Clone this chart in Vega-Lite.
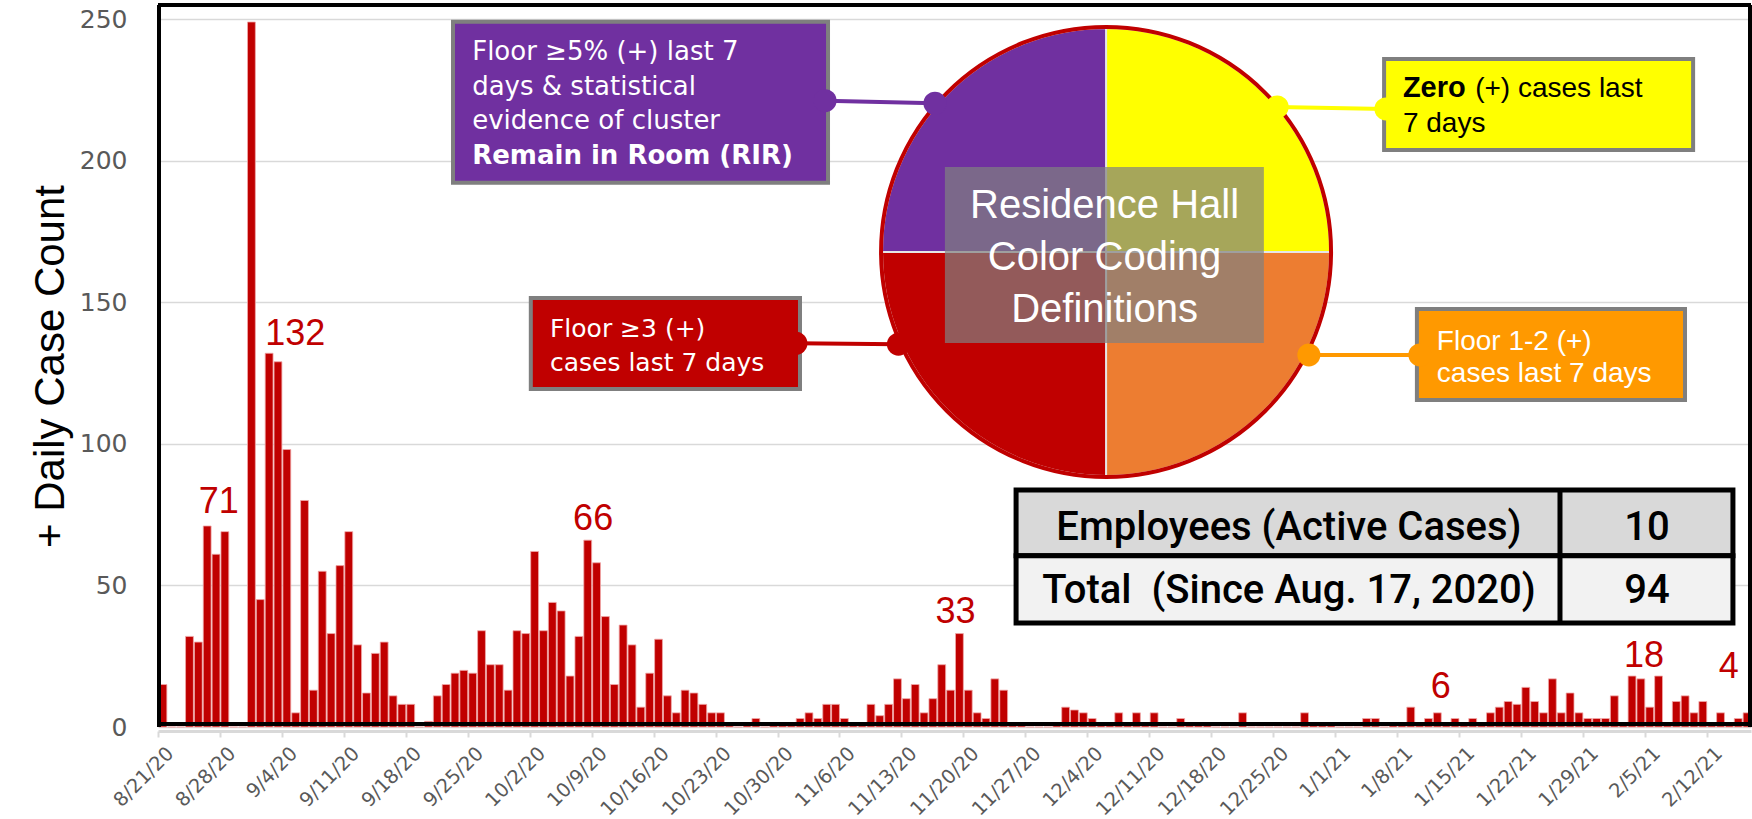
{
"$schema": "https://vega.github.io/schema/vega-lite/v6.json",
"width": 1593, "height": 722,
"autosize": {"type": "none"},
"padding": {"left": 158, "top": 5, "right": 1, "bottom": 92},
"background": "white",
"config": {"view": {"stroke": null}},
"layer": [
{
"data": {"values": [
{"date":"2020-08-21","cases":15},{"date":"2020-08-22","cases":0},{"date":"2020-08-23","cases":0},{"date":"2020-08-24","cases":32},{"date":"2020-08-25","cases":30},{"date":"2020-08-26","cases":71},{"date":"2020-08-27","cases":61},{"date":"2020-08-28","cases":69},{"date":"2020-08-29","cases":0},{"date":"2020-08-30","cases":0},{"date":"2020-08-31","cases":249},
{"date":"2020-09-01","cases":45},{"date":"2020-09-02","cases":132},{"date":"2020-09-03","cases":129},{"date":"2020-09-04","cases":98},{"date":"2020-09-05","cases":5},{"date":"2020-09-06","cases":80},{"date":"2020-09-07","cases":13},{"date":"2020-09-08","cases":55},{"date":"2020-09-09","cases":33},{"date":"2020-09-10","cases":57},{"date":"2020-09-11","cases":69},{"date":"2020-09-12","cases":29},{"date":"2020-09-13","cases":12},{"date":"2020-09-14","cases":26},{"date":"2020-09-15","cases":30},{"date":"2020-09-16","cases":11},{"date":"2020-09-17","cases":8},{"date":"2020-09-18","cases":8},{"date":"2020-09-19","cases":0},{"date":"2020-09-20","cases":2},{"date":"2020-09-21","cases":11},{"date":"2020-09-22","cases":15},{"date":"2020-09-23","cases":19},{"date":"2020-09-24","cases":20},{"date":"2020-09-25","cases":19},{"date":"2020-09-26","cases":34},{"date":"2020-09-27","cases":22},{"date":"2020-09-28","cases":22},{"date":"2020-09-29","cases":13},{"date":"2020-09-30","cases":34},
{"date":"2020-10-01","cases":33},{"date":"2020-10-02","cases":62},{"date":"2020-10-03","cases":34},{"date":"2020-10-04","cases":44},{"date":"2020-10-05","cases":41},{"date":"2020-10-06","cases":18},{"date":"2020-10-07","cases":32},{"date":"2020-10-08","cases":66},{"date":"2020-10-09","cases":58},{"date":"2020-10-10","cases":39},{"date":"2020-10-11","cases":15},{"date":"2020-10-12","cases":36},{"date":"2020-10-13","cases":29},{"date":"2020-10-14","cases":7},{"date":"2020-10-15","cases":19},{"date":"2020-10-16","cases":31},{"date":"2020-10-17","cases":11},{"date":"2020-10-18","cases":5},{"date":"2020-10-19","cases":13},{"date":"2020-10-20","cases":12},{"date":"2020-10-21","cases":8},{"date":"2020-10-22","cases":5},{"date":"2020-10-23","cases":5},{"date":"2020-10-24","cases":1},{"date":"2020-10-25","cases":0},{"date":"2020-10-26","cases":1},{"date":"2020-10-27","cases":3},{"date":"2020-10-28","cases":0},{"date":"2020-10-29","cases":1},{"date":"2020-10-30","cases":1},{"date":"2020-10-31","cases":1},
{"date":"2020-11-01","cases":3},{"date":"2020-11-02","cases":5},{"date":"2020-11-03","cases":3},{"date":"2020-11-04","cases":8},{"date":"2020-11-05","cases":8},{"date":"2020-11-06","cases":3},{"date":"2020-11-07","cases":1},{"date":"2020-11-08","cases":1},{"date":"2020-11-09","cases":8},{"date":"2020-11-10","cases":4},{"date":"2020-11-11","cases":8},{"date":"2020-11-12","cases":17},{"date":"2020-11-13","cases":10},{"date":"2020-11-14","cases":15},{"date":"2020-11-15","cases":5},{"date":"2020-11-16","cases":10},{"date":"2020-11-17","cases":22},{"date":"2020-11-18","cases":13},{"date":"2020-11-19","cases":33},{"date":"2020-11-20","cases":13},{"date":"2020-11-21","cases":5},{"date":"2020-11-22","cases":3},{"date":"2020-11-23","cases":17},{"date":"2020-11-24","cases":13},{"date":"2020-11-25","cases":1},{"date":"2020-11-26","cases":1},{"date":"2020-11-27","cases":0},{"date":"2020-11-28","cases":0},{"date":"2020-11-29","cases":0},{"date":"2020-11-30","cases":1},
{"date":"2020-12-01","cases":7},{"date":"2020-12-02","cases":6},{"date":"2020-12-03","cases":5},{"date":"2020-12-04","cases":3},{"date":"2020-12-05","cases":1},{"date":"2020-12-06","cases":1},{"date":"2020-12-07","cases":5},{"date":"2020-12-08","cases":1},{"date":"2020-12-09","cases":5},{"date":"2020-12-10","cases":1},{"date":"2020-12-11","cases":5},{"date":"2020-12-12","cases":0},{"date":"2020-12-13","cases":0},{"date":"2020-12-14","cases":3},{"date":"2020-12-15","cases":1},{"date":"2020-12-16","cases":1},{"date":"2020-12-17","cases":1},{"date":"2020-12-18","cases":0},{"date":"2020-12-19","cases":0},{"date":"2020-12-20","cases":0},{"date":"2020-12-21","cases":5},{"date":"2020-12-22","cases":0},{"date":"2020-12-23","cases":0},{"date":"2020-12-24","cases":0},{"date":"2020-12-25","cases":0},{"date":"2020-12-26","cases":0},{"date":"2020-12-27","cases":0},{"date":"2020-12-28","cases":5},{"date":"2020-12-29","cases":1},{"date":"2020-12-30","cases":1},{"date":"2020-12-31","cases":1},
{"date":"2021-01-01","cases":0},{"date":"2021-01-02","cases":0},{"date":"2021-01-03","cases":0},{"date":"2021-01-04","cases":3},{"date":"2021-01-05","cases":3},{"date":"2021-01-06","cases":0},{"date":"2021-01-07","cases":1},{"date":"2021-01-08","cases":1},{"date":"2021-01-09","cases":7},{"date":"2021-01-10","cases":1},{"date":"2021-01-11","cases":3},{"date":"2021-01-12","cases":5},{"date":"2021-01-13","cases":1},{"date":"2021-01-14","cases":3},{"date":"2021-01-15","cases":1},{"date":"2021-01-16","cases":3},{"date":"2021-01-17","cases":1},{"date":"2021-01-18","cases":5},{"date":"2021-01-19","cases":7},{"date":"2021-01-20","cases":9},{"date":"2021-01-21","cases":8},{"date":"2021-01-22","cases":14},{"date":"2021-01-23","cases":9},{"date":"2021-01-24","cases":5},{"date":"2021-01-25","cases":17},{"date":"2021-01-26","cases":5},{"date":"2021-01-27","cases":12},{"date":"2021-01-28","cases":5},{"date":"2021-01-29","cases":3},{"date":"2021-01-30","cases":3},{"date":"2021-01-31","cases":3},
{"date":"2021-02-01","cases":11},{"date":"2021-02-02","cases":1},{"date":"2021-02-03","cases":18},{"date":"2021-02-04","cases":17},{"date":"2021-02-05","cases":7},{"date":"2021-02-06","cases":18},{"date":"2021-02-07","cases":1},{"date":"2021-02-08","cases":9},{"date":"2021-02-09","cases":11},{"date":"2021-02-10","cases":5},{"date":"2021-02-11","cases":9},{"date":"2021-02-12","cases":1},{"date":"2021-02-13","cases":5},{"date":"2021-02-14","cases":1},{"date":"2021-02-15","cases":3},{"date":"2021-02-16","cases":5}
]},
"mark": {"type": "bar", "color": "#C00000", "stroke": "#f0a8a8", "strokeWidth": 0.8},
"encoding": {
"x": {"field": "date", "type": "temporal", "timeUnit": "utcyearmonthdate",
 "scale": {"type": "utc", "nice": false, "domain": [{"year":2020,"month":8,"date":21,"utc":true},{"year":2021,"month":2,"date":17,"utc":true}]},
 "axis": {"title": null, "grid": false, "labelExpr": "utcFormat(datum.value, '%-m/%-d/%y')",
  "values": [{"year":2020,"month":8,"date":21,"utc":true},{"year":2020,"month":8,"date":28,"utc":true},{"year":2020,"month":9,"date":4,"utc":true},{"year":2020,"month":9,"date":11,"utc":true},{"year":2020,"month":9,"date":18,"utc":true},{"year":2020,"month":9,"date":25,"utc":true},{"year":2020,"month":10,"date":2,"utc":true},{"year":2020,"month":10,"date":9,"utc":true},{"year":2020,"month":10,"date":16,"utc":true},{"year":2020,"month":10,"date":23,"utc":true},{"year":2020,"month":10,"date":30,"utc":true},{"year":2020,"month":11,"date":6,"utc":true},{"year":2020,"month":11,"date":13,"utc":true},{"year":2020,"month":11,"date":20,"utc":true},{"year":2020,"month":11,"date":27,"utc":true},{"year":2020,"month":12,"date":4,"utc":true},{"year":2020,"month":12,"date":11,"utc":true},{"year":2020,"month":12,"date":18,"utc":true},{"year":2020,"month":12,"date":25,"utc":true},{"year":2021,"month":1,"date":1,"utc":true},{"year":2021,"month":1,"date":8,"utc":true},{"year":2021,"month":1,"date":15,"utc":true},{"year":2021,"month":1,"date":22,"utc":true},{"year":2021,"month":1,"date":29,"utc":true},{"year":2021,"month":2,"date":5,"utc":true},{"year":2021,"month":2,"date":12,"utc":true}],
  "labelAngle": -45, "labelAlign": "right", "labelBaseline": "middle", "labelFont": "DejaVu Sans", "labelFontSize": 19.5, "labelColor": "#595959", "labelPadding": 13, "labelOffset": 12, "labelOverlap": false, "labelBound": false, "labelFlush": false,
  "tickColor": "#d9d9d9", "tickWidth": 2, "tickSize": 6, "domainColor": "#d9d9d9", "domainWidth": 3, "offset": 4}},
"y": {"field": "cases", "type": "quantitative", "scale": {"domain": [0, 255], "nice": false},
 "axis": {"title": "+ Daily Case Count", "values": [0,50,100,150,200,250], "labelFont": "DejaVu Sans", "labelFontSize": 25, "labelColor": "#595959", "labelPadding": 31, "ticks": false, "domain": false, "grid": true, "gridColor": "#d9d9d9", "gridWidth": 1.5,
  "titleFont": "Liberation Sans", "titleFontSize": 42, "titleFontWeight": "normal", "titleColor": "#000000", "titleX": -108, "titleBaseline": "middle", "titleAngle": -90}}
}
},
{
"data": {"values": [
{"date":"2020-08-27T21:00:00Z","level":75.6,"label":"71"},
{"date":"2020-09-05T12:00:00Z","level":134.9,"label":"132"},
{"date":"2020-10-09T04:00:00Z","level":69.6,"label":"66"},
{"date":"2020-11-19T03:00:00Z","level":36.6,"label":"33"},
{"date":"2021-01-12T23:00:00Z","level":10.2,"label":"6"},
{"date":"2021-02-04T22:00:00Z","level":21.2,"label":"18"},
{"date":"2021-02-14T12:00:00Z","level":17.3,"label":"4"}
]},
"mark": {"type": "text", "font": "Liberation Sans", "fontSize": 36, "color": "#C00000", "align": "center", "baseline": "alphabetic"},
"encoding": {"x": {"field": "date", "type": "temporal"}, "y": {"field": "level", "type": "quantitative"}, "text": {"field": "label"}}
},
{
"data": {"values": [{}]},
"layer": [
{"mark": {"type": "rule", "color": "#000000", "strokeWidth": 4, "yOffset": -3}, "encoding": {"y": {"datum": 0, "type": "quantitative"}}},
{"mark": {"type": "rule", "color": "#000000", "strokeWidth": 4}, "encoding": {"y": {"datum": 255, "type": "quantitative"}}},
{"mark": {"type": "rule", "color": "#000000", "strokeWidth": 4, "xOffset": 1}, "encoding": {"x": {"datum": {"year":2020,"month":8,"date":21,"utc":true}, "type": "temporal"}}},
{"mark": {"type": "rule", "color": "#000000", "strokeWidth": 4, "xOffset": -1}, "encoding": {"x": {"datum": {"year":2021,"month":2,"date":17,"utc":true}, "type": "temporal"}}},
{
"data": {"values": [{"k":1,"zone":"Zero (+) cases last 7 days","n":1},{"k":2,"zone":"Floor 1-2 (+) cases last 7 days","n":1},{"k":3,"zone":"Floor ≥3 (+) cases last 7 days","n":1},{"k":4,"zone":"Floor ≥5% (+) & cluster: Remain in Room","n":1}]},
"mark": {"type": "arc", "radius": 224, "stroke": "#e6e6e6", "strokeWidth": 2},
"encoding": {
 "x": {"datum": {"year":2020,"month":12,"date":6,"hours":3,"utc":true}, "type": "temporal"},
 "y": {"datum": 167.8, "type": "quantitative"},
 "theta": {"field": "n", "type": "quantitative"},
 "order": {"field": "k", "type": "quantitative"},
 "color": {"field": "zone", "type": "nominal", "legend": null,
  "scale": {"domain": ["Zero (+) cases last 7 days","Floor 1-2 (+) cases last 7 days","Floor ≥3 (+) cases last 7 days","Floor ≥5% (+) & cluster: Remain in Room"], "range": ["#FFFF00","#ED7D31","#C00000","#7030A0"]}}
}
},
{"mark": {"type": "rect", "color": "#808080", "opacity": 0.7},
 "encoding": {"x": {"datum": {"year":2020,"month":11,"date":17,"hours":22,"utc":true}, "type": "temporal"}, "x2": {"datum": {"year":2020,"month":12,"date":23,"hours":23,"utc":true}}, "y": {"datum": 197.8, "type": "quantitative"}, "y2": {"datum": 135.6}}},
{"mark": {"type": "text", "font": "Liberation Sans", "fontSize": 40, "color": "#ffffff", "align": "center", "baseline": "alphabetic", "lineHeight": 52},
 "encoding": {"x": {"datum": {"year":2020,"month":12,"date":5,"hours":23,"utc":true}, "type": "temporal"}, "y": {"datum": 179.8, "type": "quantitative"}, "text": {"value": ["Residence Hall", "Color Coding", "Definitions"]}}},
{"mark": {"type": "arc", "radius": 225, "theta": 0, "theta2": 6.2832, "fillOpacity": 0, "stroke": "#C00000", "strokeWidth": 4},
 "encoding": {"x": {"datum": {"year":2020,"month":12,"date":6,"hours":3,"utc":true}, "type": "temporal"}, "y": {"datum": 167.8, "type": "quantitative"}}},

{"mark": {"type": "rect", "color": "#7030A0", "stroke": "#7f7f7f", "strokeWidth": 4},
 "encoding": {"x": {"datum": {"year":2020,"month":9,"date":23,"hours":8,"utc":true}, "type": "temporal"}, "x2": {"datum": {"year":2020,"month":11,"date":4,"hours":17,"utc":true}}, "y": {"datum": 249.1, "type": "quantitative"}, "y2": {"datum": 192.2}}},
{"mark": {"type": "text", "font": "DejaVu Sans", "fontSize": 26, "color": "#ffffff", "align": "left", "baseline": "alphabetic", "lineHeight": 34.7},
 "encoding": {"x": {"datum": {"year":2020,"month":9,"date":25,"hours":12,"utc":true}, "type": "temporal"}, "y": {"datum": 235.6, "type": "quantitative"}, "text": {"value": ["Floor ≥5% (+) last 7", "days & statistical", "evidence of cluster"]}}},
{"mark": {"type": "text", "font": "DejaVu Sans", "fontSize": 26, "fontWeight": "bold", "color": "#ffffff", "align": "left", "baseline": "alphabetic"},
 "encoding": {"x": {"datum": {"year":2020,"month":9,"date":25,"hours":12,"utc":true}, "type": "temporal"}, "y": {"datum": 198.8, "type": "quantitative"}, "text": {"value": "Remain in Room (RIR)"}}},

{"mark": {"type": "rect", "color": "#C00000", "stroke": "#7f7f7f", "strokeWidth": 4},
 "encoding": {"x": {"datum": {"year":2020,"month":10,"date":2,"hours":3,"utc":true}, "type": "temporal"}, "x2": {"datum": {"year":2020,"month":11,"date":1,"hours":13,"utc":true}}, "y": {"datum": 151.5, "type": "quantitative"}, "y2": {"datum": 119.4}}},
{"mark": {"type": "text", "font": "DejaVu Sans", "fontSize": 25, "color": "#ffffff", "align": "left", "baseline": "alphabetic", "lineHeight": 34},
 "encoding": {"x": {"datum": {"year":2020,"month":10,"date":4,"hours":7,"utc":true}, "type": "temporal"}, "y": {"datum": 137.8, "type": "quantitative"}, "text": {"value": ["Floor ≥3 (+)", "cases last 7 days"]}}},

{"mark": {"type": "rect", "color": "#FFFF00", "stroke": "#7f7f7f", "strokeWidth": 4},
 "encoding": {"x": {"datum": {"year":2021,"month":1,"date":6,"hours":13,"utc":true}, "type": "temporal"}, "x2": {"datum": {"year":2021,"month":2,"date":10,"hours":11,"utc":true}}, "y": {"datum": 235.9, "type": "quantitative"}, "y2": {"datum": 203.8}}},
{"mark": {"type": "text", "font": "Liberation Sans", "fontSize": 29, "fontWeight": "bold", "color": "#000000", "align": "left", "baseline": "alphabetic"},
 "encoding": {"x": {"datum": {"year":2021,"month":1,"date":8,"hours":16,"utc":true}, "type": "temporal"}, "y": {"datum": 222.5, "type": "quantitative"}, "text": {"value": "Zero"}}},
{"mark": {"type": "text", "font": "Liberation Sans", "fontSize": 28, "color": "#000000", "align": "left", "baseline": "alphabetic"},
 "encoding": {"x": {"datum": {"year":2021,"month":1,"date":16,"hours":20,"utc":true}, "type": "temporal"}, "y": {"datum": 222.5, "type": "quantitative"}, "text": {"value": "(+) cases last"}}},
{"mark": {"type": "text", "font": "Liberation Sans", "fontSize": 28, "color": "#000000", "align": "left", "baseline": "alphabetic"},
 "encoding": {"x": {"datum": {"year":2021,"month":1,"date":8,"hours":16,"utc":true}, "type": "temporal"}, "y": {"datum": 210.1, "type": "quantitative"}, "text": {"value": "7 days"}}},

{"mark": {"type": "rect", "color": "#FF9900", "stroke": "#7f7f7f", "strokeWidth": 4},
 "encoding": {"x": {"datum": {"year":2021,"month":1,"date":10,"hours":6,"utc":true}, "type": "temporal"}, "x2": {"datum": {"year":2021,"month":2,"date":9,"hours":13,"utc":true}}, "y": {"datum": 147.6, "type": "quantitative"}, "y2": {"datum": 115.5}}},
{"mark": {"type": "text", "font": "Liberation Sans", "fontSize": 28, "color": "#ffffff", "align": "left", "baseline": "alphabetic", "lineHeight": 32},
 "encoding": {"x": {"datum": {"year":2021,"month":1,"date":12,"hours":12,"utc":true}, "type": "temporal"}, "y": {"datum": 133.2, "type": "quantitative"}, "text": {"value": ["Floor 1-2 (+)", "cases last 7 days"]}}},

{"mark": {"type": "rule", "color": "#7030A0", "strokeWidth": 4},
 "encoding": {"x": {"datum": {"year":2020,"month":11,"date":4,"hours":9,"utc":true}, "type": "temporal"}, "x2": {"datum": {"year":2020,"month":11,"date":16,"hours":19,"utc":true}}, "y": {"datum": 221.2, "type": "quantitative"}, "y2": {"datum": 220.3}}},
{"mark": {"type": "point", "shape": "circle", "filled": true, "opacity": 1, "size": 530, "color": "#7030A0"},
 "encoding": {"x": {"datum": {"year":2020,"month":11,"date":4,"hours":9,"utc":true}, "type": "temporal"}, "y": {"datum": 221.2, "type": "quantitative"}}},
{"mark": {"type": "point", "shape": "circle", "filled": true, "opacity": 1, "size": 530, "color": "#7030A0"},
 "encoding": {"x": {"datum": {"year":2020,"month":11,"date":16,"hours":19,"utc":true}, "type": "temporal"}, "y": {"datum": 220.3, "type": "quantitative"}}},

{"mark": {"type": "rule", "color": "#C00000", "strokeWidth": 4},
 "encoding": {"x": {"datum": {"year":2020,"month":11,"date":1,"hours":2,"utc":true}, "type": "temporal"}, "x2": {"datum": {"year":2020,"month":11,"date":12,"hours":16,"utc":true}}, "y": {"datum": 135.5, "type": "quantitative"}, "y2": {"datum": 135.2}}},
{"mark": {"type": "point", "shape": "circle", "filled": true, "opacity": 1, "size": 530, "color": "#C00000"},
 "encoding": {"x": {"datum": {"year":2020,"month":11,"date":1,"hours":2,"utc":true}, "type": "temporal"}, "y": {"datum": 135.5, "type": "quantitative"}}},
{"mark": {"type": "point", "shape": "circle", "filled": true, "opacity": 1, "size": 530, "color": "#C00000"},
 "encoding": {"x": {"datum": {"year":2020,"month":11,"date":12,"hours":16,"utc":true}, "type": "temporal"}, "y": {"datum": 135.2, "type": "quantitative"}}},

{"mark": {"type": "rule", "color": "#FFFF00", "strokeWidth": 4},
 "encoding": {"x": {"datum": {"year":2020,"month":12,"date":25,"hours":11,"utc":true}, "type": "temporal"}, "x2": {"datum": {"year":2021,"month":1,"date":6,"hours":18,"utc":true}}, "y": {"datum": 219.0, "type": "quantitative"}, "y2": {"datum": 218.3}}},
{"mark": {"type": "point", "shape": "circle", "filled": true, "opacity": 1, "size": 530, "color": "#FFFF00"},
 "encoding": {"x": {"datum": {"year":2020,"month":12,"date":25,"hours":11,"utc":true}, "type": "temporal"}, "y": {"datum": 219.0, "type": "quantitative"}}},
{"mark": {"type": "point", "shape": "circle", "filled": true, "opacity": 1, "size": 530, "color": "#FFFF00"},
 "encoding": {"x": {"datum": {"year":2021,"month":1,"date":6,"hours":18,"utc":true}, "type": "temporal"}, "y": {"datum": 218.3, "type": "quantitative"}}},

{"mark": {"type": "rule", "color": "#FF9900", "strokeWidth": 4},
 "encoding": {"x": {"datum": {"year":2020,"month":12,"date":29,"hours":1,"utc":true}, "type": "temporal"}, "x2": {"datum": {"year":2021,"month":1,"date":10,"hours":14,"utc":true}}, "y": {"datum": 131.4, "type": "quantitative"}, "y2": {"datum": 131.4}}},
{"mark": {"type": "point", "shape": "circle", "filled": true, "opacity": 1, "size": 530, "color": "#FF9900"},
 "encoding": {"x": {"datum": {"year":2020,"month":12,"date":29,"hours":1,"utc":true}, "type": "temporal"}, "y": {"datum": 131.4, "type": "quantitative"}}},
{"mark": {"type": "point", "shape": "circle", "filled": true, "opacity": 1, "size": 530, "color": "#FF9900"},
 "encoding": {"x": {"datum": {"year":2021,"month":1,"date":10,"hours":14,"utc":true}, "type": "temporal"}, "y": {"datum": 131.4, "type": "quantitative"}}},

{"mark": {"type": "rect", "color": "#d9d9d9", "stroke": "#000000", "strokeWidth": 5},
 "encoding": {"x": {"datum": {"year":2020,"month":11,"date":25,"hours":23,"utc":true}, "type": "temporal"}, "x2": {"datum": {"year":2021,"month":2,"date":14,"hours":23,"utc":true}}, "y": {"datum": 83.7, "type": "quantitative"}, "y2": {"datum": 60.5}}},
{"mark": {"type": "rect", "color": "#f2f2f2", "stroke": "#000000", "strokeWidth": 5},
 "encoding": {"x": {"datum": {"year":2020,"month":11,"date":25,"hours":23,"utc":true}, "type": "temporal"}, "x2": {"datum": {"year":2021,"month":2,"date":14,"hours":23,"utc":true}}, "y": {"datum": 60.5, "type": "quantitative"}, "y2": {"datum": 36.7}}},
{"mark": {"type": "rule", "color": "#000000", "strokeWidth": 5},
 "encoding": {"x": {"datum": {"year":2021,"month":1,"date":26,"hours":10,"utc":true}, "type": "temporal"}, "y": {"datum": 83.7, "type": "quantitative"}, "y2": {"datum": 36.7}}},
{"mark": {"type": "text", "font": "Roboto", "fontSize": 40, "fontWeight": 500, "color": "#000000", "align": "center", "baseline": "alphabetic"},
 "encoding": {"x": {"datum": {"year":2020,"month":12,"date":26,"hours":19,"utc":true}, "type": "temporal"}, "y": {"datum": 66.0, "type": "quantitative"}, "text": {"value": "Employees (Active Cases)"}}},
{"mark": {"type": "text", "font": "Roboto", "fontSize": 40, "fontWeight": 500, "color": "#000000", "align": "center", "baseline": "alphabetic"},
 "encoding": {"x": {"datum": {"year":2020,"month":12,"date":26,"hours":19,"utc":true}, "type": "temporal"}, "y": {"datum": 43.8, "type": "quantitative"}, "text": {"value": "Total\u00a0 (Since Aug. 17, 2020)"}}},
{"mark": {"type": "text", "font": "Roboto", "fontSize": 40, "fontWeight": 500, "color": "#000000", "align": "center", "baseline": "alphabetic"},
 "encoding": {"x": {"datum": {"year":2021,"month":2,"date":5,"hours":6,"utc":true}, "type": "temporal"}, "y": {"datum": 66.0, "type": "quantitative"}, "text": {"value": "10"}}},
{"mark": {"type": "text", "font": "Roboto", "fontSize": 40, "fontWeight": 500, "color": "#000000", "align": "center", "baseline": "alphabetic"},
 "encoding": {"x": {"datum": {"year":2021,"month":2,"date":5,"hours":6,"utc":true}, "type": "temporal"}, "y": {"datum": 43.8, "type": "quantitative"}, "text": {"value": "94"}}}
]
}
]
}
